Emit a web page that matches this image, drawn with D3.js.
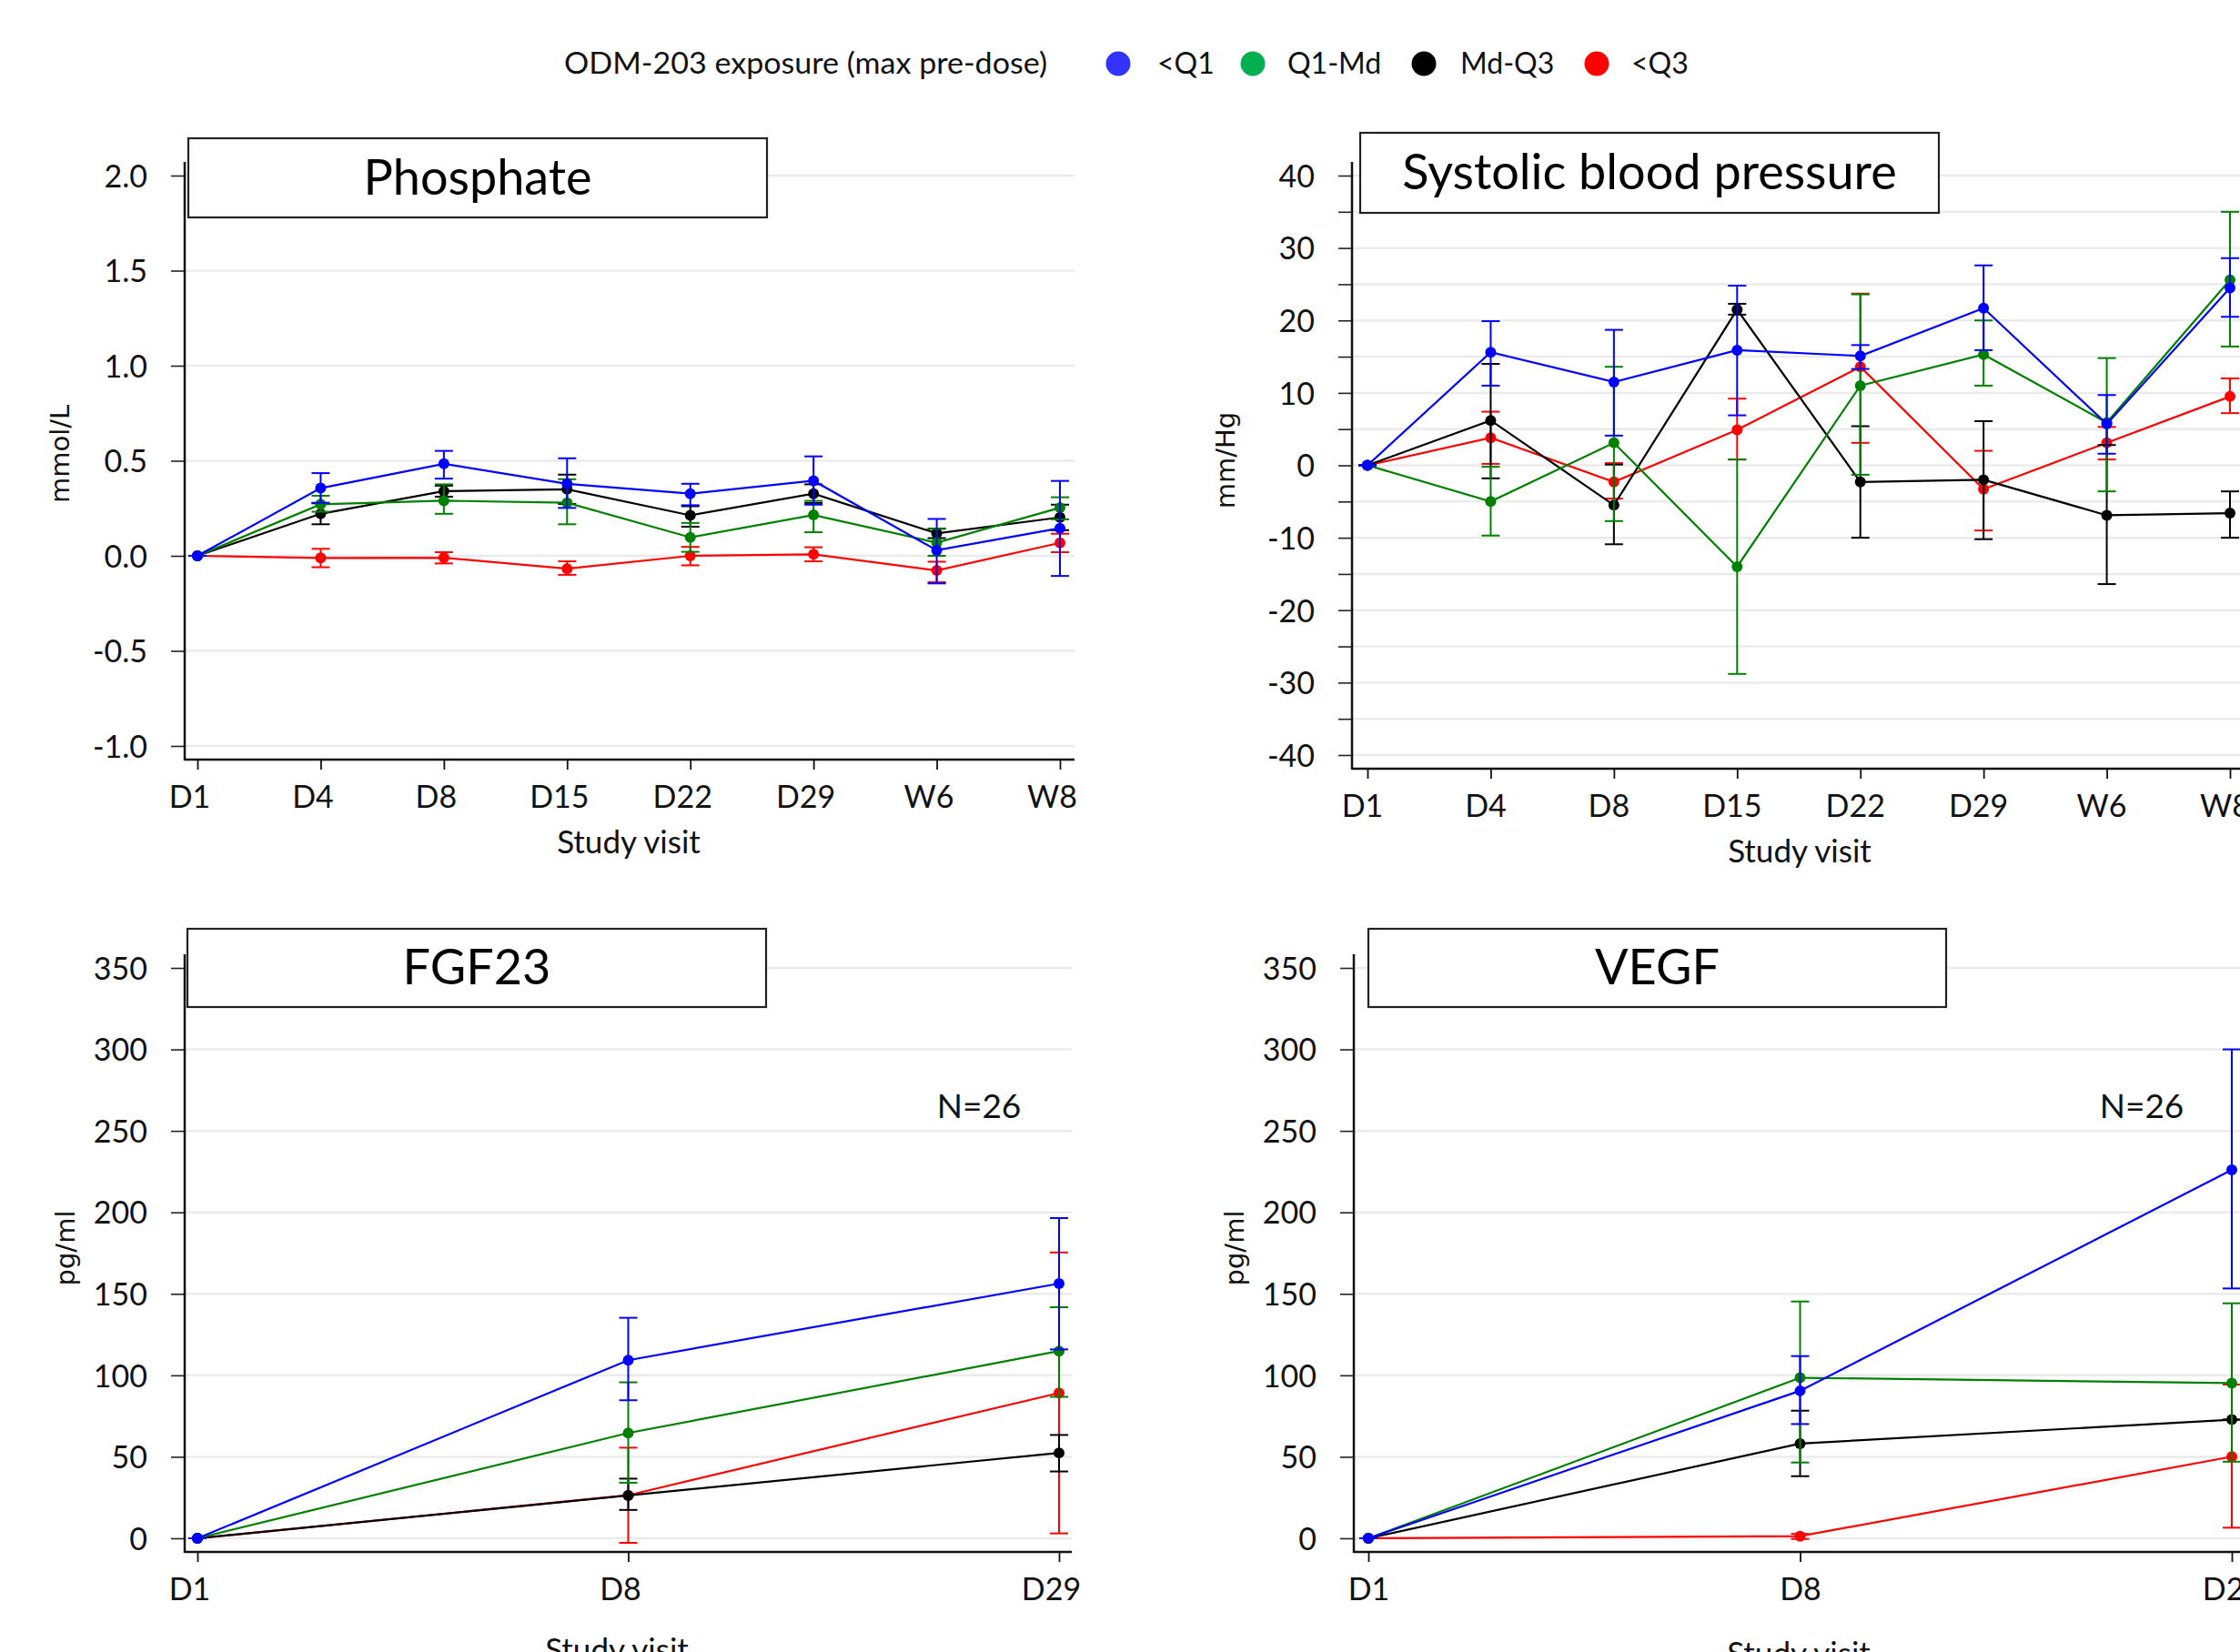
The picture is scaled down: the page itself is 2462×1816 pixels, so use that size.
<!DOCTYPE html>
<html><head><meta charset="utf-8">
<script src="https://cdn.jsdelivr.net/npm/d3@7"></script>
<style>body{margin:0;background:#fff}svg{display:block}</style>
</head><body>
<svg id="chart" width="2462" height="1816"></svg>
<script>
// ---------- DATA ----------
const groups = ["<Q1", "Q1-Md", "Md-Q3", "<Q3"];
const lineColors = ["#0000ff", "#008000", "#000000", "#ff0000"];
const legendColors = ["#3333ff", "#00b050", "#000000", "#ff0000"];
const legendTitle = "ODM-203 exposure (max pre-dose)";
const xAxisTitle = "Study visit";
const nLabel = "N=26";

// Phosphate (mmol/L)
const phosVisits = ["D1", "D4", "D8", "D15", "D22", "D29", "W6", "W8"];
const phosTicks = [-1.0, -0.5, 0.0, 0.5, 1.0, 1.5, 2.0];
const phosMean = [
  [0, 0.356, 0.484, 0.379, 0.327, 0.395, 0.029, 0.145],
  [0, 0.271, 0.290, 0.279, 0.097, 0.215, 0.069, 0.253],
  [0, 0.221, 0.340, 0.350, 0.213, 0.327, 0.118, 0.202],
  [0, -0.011, -0.010, -0.068, 0.000, 0.008, -0.077, 0.068]
];
const phosLow = [
  [0, 0.279, 0.406, 0.252, 0.266, 0.269, -0.145, -0.106],
  [0, 0.232, 0.221, 0.166, 0.021, 0.124, 0.000, 0.192],
  [0, 0.166, 0.311, 0.273, 0.153, 0.278, 0.093, 0.135],
  [0, -0.060, -0.040, -0.100, -0.050, -0.029, -0.139, 0.019]
];
const phosHigh = [
  [0, 0.435, 0.552, 0.513, 0.379, 0.523, 0.194, 0.394],
  [0, 0.316, 0.376, 0.403, 0.173, 0.289, 0.142, 0.308],
  [0, 0.276, 0.369, 0.427, 0.261, 0.376, 0.143, 0.269],
  [0, 0.037, 0.019, -0.029, 0.047, 0.045, -0.031, 0.116]
];

// Systolic blood pressure (mm/Hg)
const sbpVisits = ["D1", "D4", "D8", "D15", "D22", "D29", "W6", "W8"];
const sbpTicks = [-40, -35, -30, -25, -20, -15, -10, -5, 0, 5, 10, 15, 20, 25, 30, 35, 40];
const sbpMean = [
  [0, 15.6, 11.5, 15.9, 15.1, 21.7, 5.7, 24.5],
  [0, -5.0, 3.1, -14.0, 11.0, 15.3, 5.9, 25.6],
  [0, 6.2, -5.5, 21.5, -2.3, -2.0, -6.9, -6.6],
  [0, 3.8, -2.3, 4.9, 13.6, -3.3, 3.1, 9.5]
];
const sbpLow = [
  [0, 11.0, 4.1, 6.9, 13.3, 15.9, 1.6, 20.5],
  [0, -9.7, -7.7, -28.8, -1.3, 11.0, -3.6, 16.4],
  [0, -1.8, -10.9, 20.8, -10.0, -10.2, -16.4, -10.0],
  [0, 0.2, -4.6, 0.8, 3.1, -9.0, 0.8, 7.2]
];
const sbpHigh = [
  [0, 19.9, 18.7, 24.8, 16.6, 27.6, 9.7, 28.6],
  [0, -0.2, 13.6, 0.8, 23.6, 20.0, 14.8, 35.0],
  [0, 14.0, 0.1, 22.3, 5.4, 6.1, 2.8, -3.6],
  [0, 7.4, 0.3, 9.2, 23.7, 2.0, 5.3, 12.0]
];

// FGF23 (pg/ml)
const fgfVisits = ["D1", "D8", "D29"];
const fgfTicks = [0, 50, 100, 150, 200, 250, 300, 350];
const fgfMean = [
  [0, 109.3, 156.3],
  [0, 64.6, 114.9],
  [0, 26.3, 52.4],
  [0, 26.4, 89.2]
];
const fgfLow = [
  [0, 84.7, 115.9],
  [0, 34.1, 86.8],
  [0, 17.4, 41.0],
  [0, -2.8, 3.0]
];
const fgfHigh = [
  [0, 135.3, 196.5],
  [0, 95.7, 141.8],
  [0, 36.6, 63.4],
  [0, 55.6, 175.4]
];

// VEGF (pg/ml)
const vegfVisits = ["D1", "D8", "D29"];
const vegfTicks = [0, 50, 100, 150, 200, 250, 300, 350];
const vegfMean = [
  [0, 90.5, 226.1],
  [0, 98.5, 95.2],
  [0, 58.1, 72.8],
  [0, 1.3, 50.1]
];
const vegfLow = [
  [0, 70.1, 153.3],
  [0, 46.5, 47.0],
  [0, 38.1, 72.8],
  [0, -0.4, 6.5]
];
const vegfHigh = [
  [0, 111.8, 300.0],
  [0, 145.3, 144.2],
  [0, 78.3, 72.8],
  [0, 2.7, 94.3]
];

// ---------- DRAWING ----------
const svg = d3.select("#chart");
const FONT = "Lato, 'Open Sans', sans-serif";
const drawOrder = [3, 2, 1, 0];

function panel(o) {
  const g = svg.append("g");
  const y = d3.scaleLinear().domain(o.domain).range([o.yBottom, o.yTop]);
  const x = d3.scalePoint().domain(o.visits).range([o.xFirst, o.xLast]);

  // gridlines
  g.selectAll(".grid").data(o.ticks).enter().append("line")
    .attr("x1", o.axisX + 1).attr("x2", o.gridRight)
    .attr("y1", d => y(d)).attr("y2", d => y(d))
    .attr("stroke", "#ebebeb").attr("stroke-width", 2.5);

  // y axis
  const yAxis = d3.axisLeft(y).tickValues(o.ticks).tickSize(15).tickPadding(26)
    .tickFormat(d => (o.labelEvery && Math.round(d) % o.labelEvery !== 0) ? "" : o.fmt(d));
  const ya = g.append("g").attr("transform", `translate(${o.axisX},0)`).call(yAxis);
  ya.select(".domain").remove();
  ya.selectAll(".tick line").attr("stroke", "#222").attr("stroke-width", 1.6);
  ya.selectAll(".tick text").attr("font-family", FONT).attr("font-size", 34).attr("fill", "#111").attr("dy", "0.36em");
  g.append("line").attr("x1", o.axisX).attr("x2", o.axisX).attr("y1", o.axisTop).attr("y2", o.xAxisY + 1)
    .attr("stroke", "#111").attr("stroke-width", 2.5);

  // x axis
  const xAxis = d3.axisBottom(x).tickSize(11).tickPadding(16);
  const xa = g.append("g").attr("transform", `translate(0,${o.xAxisY})`).call(xAxis);
  xa.select(".domain").remove();
  xa.selectAll(".tick line").attr("stroke", "#111").attr("stroke-width", 1.8);
  xa.selectAll(".tick text").attr("font-family", FONT).attr("font-size", 34).attr("fill", "#111")
    .attr("dy", "0.75em").attr("dx", o.labelShift || 0);
  g.append("line").attr("x1", o.axisX).attr("x2", o.gridRight).attr("y1", o.xAxisY).attr("y2", o.xAxisY)
    .attr("stroke", "#111").attr("stroke-width", 2.5);

  // series
  const line = d3.line().x(d => x(d.v)).y(d => y(d.m));
  drawOrder.forEach(si => {
    const pts = o.visits.map((v, i) => ({v, m: o.mean[si][i], lo: o.low[si][i], hi: o.high[si][i]}));
    const sg = g.append("g").attr("stroke", lineColors[si]).attr("fill", lineColors[si]);
    sg.append("path").datum(pts).attr("d", line).attr("fill", "none").attr("stroke-width", 2.2);
    sg.selectAll(".eb").data(pts).enter().append("line")
      .attr("x1", d => x(d.v)).attr("x2", d => x(d.v))
      .attr("y1", d => y(d.lo)).attr("y2", d => y(d.hi)).attr("stroke-width", 2);
    ["lo", "hi"].forEach(k => {
      sg.selectAll(".cap" + k).data(pts).enter().append("line")
        .attr("x1", d => x(d.v) - 10).attr("x2", d => x(d.v) + 10)
        .attr("y1", d => y(d[k])).attr("y2", d => y(d[k])).attr("stroke-width", 2);
    });
    sg.selectAll(".pt").data(pts).enter().append("circle")
      .attr("cx", d => x(d.v)).attr("cy", d => y(d.m)).attr("r", 6).attr("stroke", "none");
  });

  // title box
  g.append("rect").attr("x", o.box[0]).attr("y", o.box[1]).attr("width", o.box[2]).attr("height", o.box[3])
    .attr("fill", "#fff").attr("stroke", "#222").attr("stroke-width", 2.2);
  g.append("text").attr("x", o.box[0] + o.box[2] / 2).attr("y", o.box[1] + o.box[3] / 2 + 18)
    .attr("text-anchor", "middle").attr("font-family", FONT).attr("font-size", 54).attr("fill", "#000").text(o.title);

  // y label
  g.append("text").attr("transform", `translate(${o.yLabel[0]},${o.yLabel[1]}) rotate(-90)`)
    .attr("text-anchor", "middle").attr("dy", "0.36em").attr("font-family", "'DejaVu Sans', sans-serif")
    .attr("font-size", 29).attr("fill", "#111").text(o.unit);

  // x label
  g.append("text").attr("x", o.xLabel[0]).attr("y", o.xLabel[1]).attr("text-anchor", "middle")
    .attr("font-family", FONT).attr("font-size", 35).attr("fill", "#111").text(xAxisTitle);

  if (o.nPos) {
    g.append("text").attr("x", o.nPos[0]).attr("y", o.nPos[1]).attr("text-anchor", "middle")
      .attr("font-family", FONT).attr("font-size", 37).attr("fill", "#111").text(nLabel);
  }
}

const fmt1 = d3.format(".1f");
const fmt0 = d3.format("d");

panel({title: "Phosphate", unit: "mmol/L", visits: phosVisits, ticks: phosTicks, fmt: d => fmt1(d).replace("−", "-"),
  mean: phosMean, low: phosLow, high: phosHigh, domain: [-1, 2], yBottom: 820, yTop: 193,
  xFirst: 217, xLast: 1165, axisX: 203, axisTop: 178, xAxisY: 835, gridRight: 1181, labelShift: -9,
  box: [207, 152, 636, 87], yLabel: [66, 499], xLabel: [691, 938]});

panel({title: "Systolic blood pressure", unit: "mm/Hg", visits: sbpVisits, ticks: sbpTicks, labelEvery: 10,
  fmt: d => fmt0(d).replace("−", "-"),
  mean: sbpMean, low: sbpLow, high: sbpHigh, domain: [-40, 40], yBottom: 830, yTop: 193,
  xFirst: 1503, xLast: 2451, axisX: 1486, axisTop: 178, xAxisY: 845, gridRight: 2470, labelShift: -6,
  box: [1495, 146, 636, 88], yLabel: [1347, 506], xLabel: [1978, 948]});

panel({title: "FGF23", unit: "pg/ml", visits: fgfVisits, ticks: fgfTicks, fmt: d => fmt0(d),
  mean: fgfMean, low: fgfLow, high: fgfHigh, domain: [0, 350], yBottom: 1691, yTop: 1064,
  xFirst: 217, xLast: 1164, axisX: 203, axisTop: 1049, xAxisY: 1706, gridRight: 1178, labelShift: -9,
  box: [206, 1021, 636, 86], yLabel: [72, 1372], xLabel: [678, 1826], nPos: [1076, 1229]});

panel({title: "VEGF", unit: "pg/ml", visits: vegfVisits, ticks: vegfTicks, fmt: d => fmt0(d),
  mean: vegfMean, low: vegfLow, high: vegfHigh, domain: [0, 350], yBottom: 1691, yTop: 1064,
  xFirst: 1504, xLast: 2453, axisX: 1488, axisTop: 1049, xAxisY: 1706, gridRight: 2470, labelShift: 0,
  box: [1504, 1021, 635, 86], yLabel: [1357, 1372], xLabel: [1977, 1830], nPos: [2354, 1229]});

// legend
const lg = svg.append("g");
lg.append("text").attr("x", 620).attr("y", 81).attr("font-family", FONT).attr("font-size", 33)
  .attr("textLength", 531).attr("lengthAdjust", "spacingAndGlyphs").attr("fill", "#111").text(legendTitle);
const legendDotX = [1229, 1377, 1565, 1755];
const legendTextX = [1272, 1415, 1605, 1793];
groups.forEach((gname, i) => {
  lg.append("circle").attr("cx", legendDotX[i]).attr("cy", 70).attr("r", 13.5).attr("fill", legendColors[i]);
  lg.append("text").attr("x", legendTextX[i]).attr("y", 81).attr("font-family", FONT).attr("font-size", 32).attr("fill", "#111").text(gname);
});
</script>
</body></html>
